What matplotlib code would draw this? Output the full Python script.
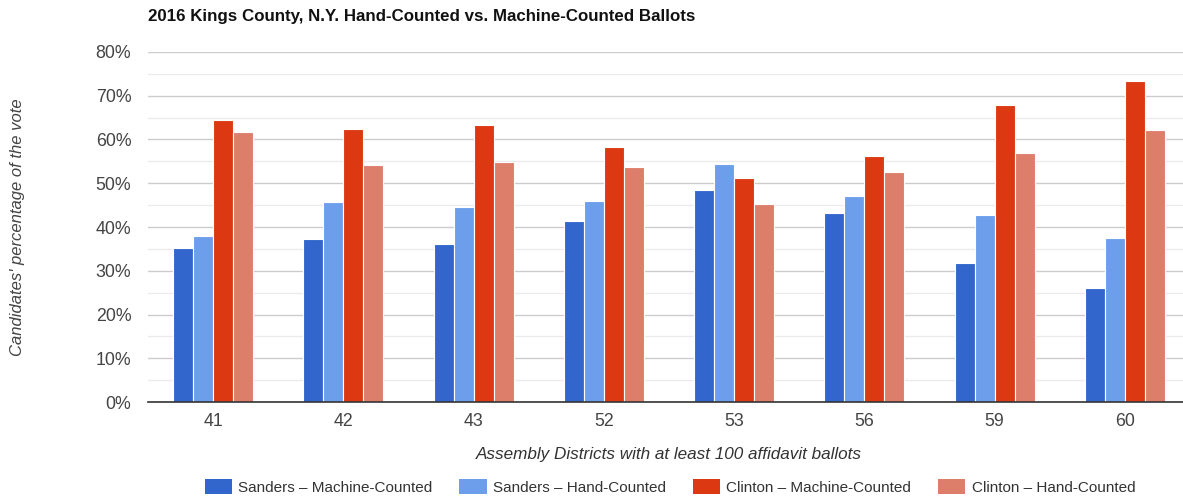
import matplotlib
matplotlib.use("Agg")
import matplotlib.pyplot as plt
import matplotlib.patches as patches
import numpy as np

plt.rcParams['font.family'] = ['Liberation Sans', 'DejaVu Sans']

# Assembly districts and vote shares (%)
districts = ['41', '42', '43', '52', '53', '56', '59', '60']
sanders_machine = [35.3, 37.2, 36.0, 41.4, 48.5, 43.3, 31.8, 26.1]
sanders_hand = [37.9, 45.6, 44.5, 46.0, 54.3, 47.0, 42.8, 37.5]
clinton_machine = [64.4, 62.4, 63.4, 58.3, 51.2, 56.3, 67.8, 73.4]
clinton_hand = [61.7, 54.1, 54.9, 53.6, 45.3, 52.6, 56.8, 62.2]

series_labels = ['Sanders \u2013 Machine-Counted', 'Sanders \u2013 Hand-Counted',
                 'Clinton \u2013 Machine-Counted', 'Clinton \u2013 Hand-Counted']
series_colors = ['#3366CC', '#6D9EEB', '#DC3912', '#DD7E6B']

fig = plt.figure(figsize=(11.83, 4.98), dpi=100)
ax = fig.add_axes([148 / 1183, 96 / 498, 1042 / 1183, 350 / 498])

x = np.arange(len(districts))
bar_w = 0.154
all_series = [sanders_machine, sanders_hand, clinton_machine, clinton_hand]
for i, (vals, color, label) in enumerate(zip(all_series, series_colors, series_labels)):
    offset = (i - 1.5) * bar_w
    ax.bar(x + offset, vals, width=bar_w, color=color, edgecolor='white',
           linewidth=0.8, label=label, zorder=3)

ax.set_xlim(-0.5, 7.5)
ax.set_ylim(0, 80)
ax.set_yticks(np.arange(0, 81, 10))
ax.set_yticklabels([f'{v}%' for v in range(0, 81, 10)])
ax.set_yticks(np.arange(5, 80, 10), minor=True)
ax.set_xticks(x)
ax.set_xticklabels(districts)

ax.grid(axis='y', which='major', color='#cccccc', linewidth=1, zorder=0)
ax.grid(axis='y', which='minor', color='#ebebeb', linewidth=1, zorder=0)
for side in ['top', 'right', 'left']:
    ax.spines[side].set_visible(False)
ax.spines['bottom'].set_color('#333333')
ax.spines['bottom'].set_linewidth(1.2)
ax.spines['bottom'].set_zorder(4)
ax.tick_params(axis='both', which='both', length=0, labelsize=12.8, colors='#444444')
ax.tick_params(axis='y', pad=12)
ax.tick_params(axis='x', pad=8)

ax.set_xlabel('Assembly Districts with at least 100 affidavit ballots',
              fontsize=12.3, style='italic', color='#333333', labelpad=12)
fig.text(18 / 1183, 1 - 227 / 498, "Candidates' percentage of the vote", rotation=90,
         fontsize=12, style='italic', color='#444444', ha='center', va='center')

fig.text(148 / 1183, 1 - 17 / 498,
         '2016 Kings County, N.Y. Hand-Counted vs. Machine-Counted Ballots',
         fontsize=12.2, fontweight='bold', color='#111111', ha='left', va='center')

handles = [patches.Patch(facecolor=c, edgecolor='none') for c in series_colors]
fig.legend(handles, series_labels, loc='center', bbox_to_anchor=(670 / 1183, 1 - 487 / 498),
           ncol=4, frameon=False, fontsize=11, handlelength=1.8, handleheight=1.1,
           columnspacing=1.75, handletextpad=0.4, labelcolor='#333333')

fig.savefig('out.png', dpi=100)
